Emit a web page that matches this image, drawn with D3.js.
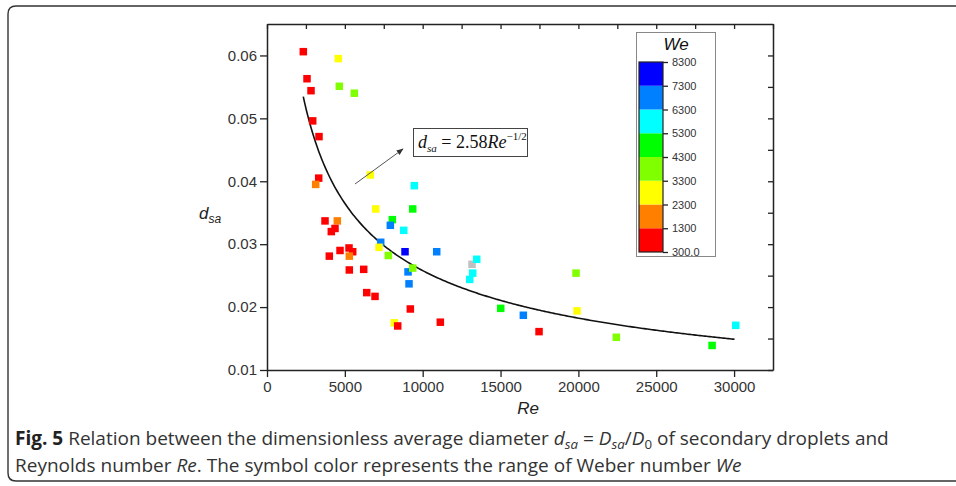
<!DOCTYPE html>
<html>
<head>
<meta charset="utf-8">
<script src="https://cdn.jsdelivr.net/npm/d3@7"></script>
<style>
  body { margin: 0; background: #fff; }
  svg { display: block; }
  .tick text { font-family: "Liberation Sans", Arial, sans-serif; font-size: 15px; fill: #333; }
  .tick line { stroke: #222; stroke-width: 1.3; }
  .domain { stroke: #222; stroke-width: 1.5; }
</style>
</head>
<body>
<div id="chart"></div>
<script>

// Reynolds number of each point
const reValues = [2332, 2570, 2827, 2936, 3340, 3321, 3128, 4580, 4645, 5608,
  6636, 9463, 6983, 9360, 8049, 7921, 8782, 3726, 4516, 4368,
  4131, 4690, 5268, 5505, 4002, 5287, 5287, 6212, 6405, 6938,
  7304, 7195, 8865, 10901, 7792, 9058, 9360, 9122, 13169, 13471,
  13214, 13021, 15013, 9206, 8178, 8396, 11133, 16465, 17473, 19850,
  19914, 22439, 28587, 30109];

// dimensionless average diameter d_sa
const dsaValues = [0.0606, 0.0563, 0.0544, 0.0496, 0.0471, 0.0405, 0.0395, 0.0595, 0.0551, 0.0540,
  0.0410, 0.0393, 0.0356, 0.0356, 0.0339, 0.0330, 0.0322, 0.0337, 0.0337, 0.0325,
  0.0320, 0.0290, 0.0294, 0.0288, 0.0281, 0.0281, 0.0259, 0.0260, 0.0223, 0.0217,
  0.0303, 0.0295, 0.0288, 0.0288, 0.0282, 0.0256, 0.0262, 0.0237, 0.0268, 0.0276,
  0.0254, 0.0244, 0.0198, 0.0197, 0.0175, 0.0170, 0.0176, 0.0187, 0.0161, 0.0254,
  0.0194, 0.0152, 0.0139, 0.0171];

const weValues = [800, 800, 800, 800, 800, 800, 1800, 2800, 3800, 3800,
  2800, 5800, 2800, 4800, 4800, 6800, 5800, 800, 1800, 800,
  800, 800, 800, 800, 800, 1800, 800, 800, 800, 800,
  6800, 2800, 7800, 6800, 3800, 6800, 3800, 6800, 9000, 5800,
  5800, 5800, 4800, 800, 2800, 800, 800, 6800, 800, 3800,
  2800, 3800, 4800, 5800];

// colour map levels
const weLevels = [300, 1300, 2300, 3300, 4300, 5300, 6300, 7300, 8300];
const weColors = ['#ff0000', '#ff8000', '#ffff00', '#80ff00', '#00ff00', '#00ffff', '#0080ff', '#0000ff'];
const weLabels = ['300.0', '1300', '2300', '3300', '4300', '5300', '6300', '7300', '8300'];

const xTicks = [0, 5000, 10000, 15000, 20000, 25000, 30000];
const xMinor = [2500, 7500, 12500, 17500, 22500, 27500, 32500];
const yTicks = [0.01, 0.02, 0.03, 0.04, 0.05, 0.06];
const yMinor = [0.015, 0.025, 0.035, 0.045, 0.055];

// fit d_sa = 2.58 Re^-1/2
const fitCoef = 2.58;
const fitRange = [2330, 30100];

const width = 956, height = 486;
const plot = { left: 267, top: 24, right: 773, bottom: 370 };

const svg = d3.select('#chart').append('svg')
  .attr('width', width)
  .attr('height', height);

// rounded frame of the figure
svg.append('path')
  .attr('d', 'M 970 6 L 16 6 Q 8 6 8 14 L 8 473 Q 8 481 16 481 L 970 481')
  .attr('fill', 'none')
  .attr('stroke', '#333')
  .attr('stroke-width', 1.4);

const x = d3.scaleLinear().domain([0, 32500]).range([plot.left, plot.right]);
const y = d3.scaleLinear().domain([0.01, 0.065]).range([plot.bottom, plot.top]);

const color = d3.scaleThreshold()
  .domain(weLevels.slice(1, 8).concat([8300]))
  .range(weColors.concat(['#c0c0c0']));

// axes
const gBottom = svg.append('g').attr('transform', `translate(0,${plot.bottom})`);
gBottom.call(d3.axisBottom(x).tickValues(xMinor).tickSize(4).tickFormat(''));
gBottom.call(d3.axisBottom(x).tickValues(xTicks).tickSize(7).tickSizeOuter(0).tickPadding(3).tickFormat(d3.format('d')));

const gTop = svg.append('g').attr('transform', `translate(0,${plot.top})`);
gTop.call(d3.axisBottom(x).tickValues(xTicks.concat(xMinor)).tickSize(5).tickSizeOuter(0).tickFormat(''));

const gLeft = svg.append('g').attr('transform', `translate(${plot.left},0)`);
gLeft.call(d3.axisLeft(y).tickValues(yMinor).tickSize(4).tickFormat(''));
gLeft.call(d3.axisLeft(y).tickValues(yTicks).tickSize(7).tickSizeOuter(0).tickPadding(3).tickFormat(d3.format('.2f')));

const gRight = svg.append('g').attr('transform', `translate(${plot.right},0)`);
gRight.call(d3.axisLeft(y).tickValues(yTicks.concat(yMinor)).tickSize(5).tickSizeOuter(0).tickFormat(''));

svg.selectAll('.domain').attr('stroke', '#222').attr('stroke-width', 1.5);
gBottom.selectAll('.tick text').attr('dy', '0.8em');

// axis titles
svg.append('text')
  .attr('x', 528).attr('y', 414)
  .attr('text-anchor', 'middle')
  .style('font-family', '"Liberation Sans", Arial, sans-serif')
  .style('font-size', '17px').style('font-style', 'italic').style('fill', '#222')
  .text('Re');

const yTitle = svg.append('text')
  .attr('x', 199).attr('y', 219)
  .style('font-family', '"Liberation Sans", Arial, sans-serif')
  .style('font-size', '17px').style('font-style', 'italic').style('fill', '#222');
yTitle.append('tspan').text('d');
yTitle.append('tspan').attr('dy', 4).style('font-size', '12px').text('sa');

// fit curve
const curveRe = d3.range(fitRange[0], fitRange[1] + 1, 100);
svg.append('path')
  .datum(curveRe)
  .attr('fill', 'none')
  .attr('stroke', '#111')
  .attr('stroke-width', 1.6)
  .attr('d', d3.line().x(d => x(d)).y(d => y(fitCoef / Math.sqrt(d))));

// points
const points = reValues.map((re, i) => ({ re: re, dsa: dsaValues[i], we: weValues[i] }));
const size = 7.5;
svg.append('g').selectAll('rect')
  .data(points)
  .enter()
  .append('rect')
  .attr('x', d => x(d.re) - size / 2)
  .attr('y', d => y(d.dsa) - size / 2)
  .attr('width', size)
  .attr('height', size)
  .attr('fill', d => color(d.we));

// annotation arrow
svg.append('defs').append('marker')
  .attr('id', 'arrow')
  .attr('viewBox', '0 0 10 10')
  .attr('refX', 9).attr('refY', 5)
  .attr('markerWidth', 7).attr('markerHeight', 7)
  .attr('orient', 'auto')
  .append('path')
  .attr('d', 'M0,1 L10,5 L0,9 Z')
  .attr('fill', '#333');

svg.append('line')
  .attr('x1', 355).attr('y1', 184)
  .attr('x2', 403).attr('y2', 149)
  .attr('stroke', '#555')
  .attr('stroke-width', 1)
  .attr('marker-end', 'url(#arrow)');

// annotation box
svg.append('rect')
  .attr('x', 413.5).attr('y', 128.5)
  .attr('width', 114).attr('height', 28)
  .attr('fill', '#fff')
  .attr('stroke', '#444')
  .attr('stroke-width', 1);

const eq = svg.append('text')
  .attr('x', 418).attr('y', 148)
  .style('font-family', '"Liberation Serif", "Times New Roman", serif')
  .style('font-size', '18px').style('fill', '#111');
eq.append('tspan').style('font-style', 'italic').text('d');
eq.append('tspan').attr('dy', 4).style('font-style', 'italic').style('font-size', '11px').text('sa');
eq.append('tspan').attr('dy', -4).text(' = 2.58');
eq.append('tspan').style('font-style', 'italic').text('Re');
eq.append('tspan').attr('dy', -8).style('font-size', '11px').text('\u22121/2');

// colour scale legend
const legend = svg.append('g');
legend.append('rect')
  .attr('x', 636.5).attr('y', 32.5)
  .attr('width', 79).attr('height', 224)
  .attr('fill', '#fff')
  .attr('stroke', '#888')
  .attr('stroke-width', 1);

legend.append('text')
  .attr('x', 676).attr('y', 50)
  .attr('text-anchor', 'middle')
  .style('font-family', '"Liberation Sans", Arial, sans-serif')
  .style('font-size', '17px').style('font-style', 'italic').style('fill', '#111')
  .text('We');

const weScale = d3.scaleLinear().domain([300, 8300]).range([252, 62]);
const bins = weColors.map((c, i) => ({ lo: weLevels[i], hi: weLevels[i + 1], c: c }));

legend.selectAll('.bin')
  .data(bins)
  .enter()
  .append('rect')
  .attr('class', 'bin')
  .attr('x', 639)
  .attr('y', d => weScale(d.hi))
  .attr('width', 24)
  .attr('height', d => weScale(d.lo) - weScale(d.hi))
  .attr('fill', d => d.c);

legend.append('rect')
  .attr('x', 639).attr('y', 62)
  .attr('width', 24).attr('height', 190)
  .attr('fill', 'none')
  .attr('stroke', '#222')
  .attr('stroke-width', 1.2);

const gBar = legend.append('g').attr('transform', 'translate(663,0)');
gBar.call(d3.axisRight(weScale).tickValues(weLevels).tickSize(5).tickSizeOuter(0).tickPadding(4)
  .tickFormat((d, i) => weLabels[i]));
gBar.select('.domain').remove();
gBar.selectAll('.tick text').style('font-size', '11px');
gBar.selectAll('.tick line').attr('stroke-width', 1);

// caption
const captionFont = '"Open Sans", "Noto Sans", sans-serif';
const cap1 = svg.append('text')
  .attr('x', 15).attr('y', 445)
  .style('font-family', captionFont)
  .style('font-size', '18px').style('fill', '#333');
cap1.append('tspan').style('font-weight', 'bold').style('fill', '#222').text('Fig. 5');
cap1.append('tspan').text(' Relation between the dimensionless average diameter ');
cap1.append('tspan').style('font-style', 'italic').text('d');
cap1.append('tspan').attr('dy', 4).style('font-style', 'italic').style('font-size', '0.7em').text('sa');
cap1.append('tspan').attr('dy', -4).text(' = ');
cap1.append('tspan').style('font-style', 'italic').text('D');
cap1.append('tspan').attr('dy', 4).style('font-style', 'italic').style('font-size', '0.7em').text('sa');
cap1.append('tspan').attr('dy', -4).text('/');
cap1.append('tspan').style('font-style', 'italic').text('D');
cap1.append('tspan').attr('dy', 4).style('font-size', '0.7em').text('0');
cap1.append('tspan').attr('dy', -4).text(' of secondary droplets and');

const cap2 = svg.append('text')
  .attr('x', 15).attr('y', 472)
  .style('font-family', captionFont)
  .style('font-size', '18px').style('fill', '#333');
cap2.append('tspan').text('Reynolds number ');
cap2.append('tspan').style('font-style', 'italic').text('Re');
cap2.append('tspan').text('. The symbol color represents the range of Weber number ');
cap2.append('tspan').style('font-style', 'italic').text('We');

// fit caption width to the reference line length
const w1 = cap1.node().getComputedTextLength();
const fs = 18 * 874 / w1;
cap1.style('font-size', fs + 'px');
cap2.style('font-size', fs + 'px');

</script>
</body>
</html>
